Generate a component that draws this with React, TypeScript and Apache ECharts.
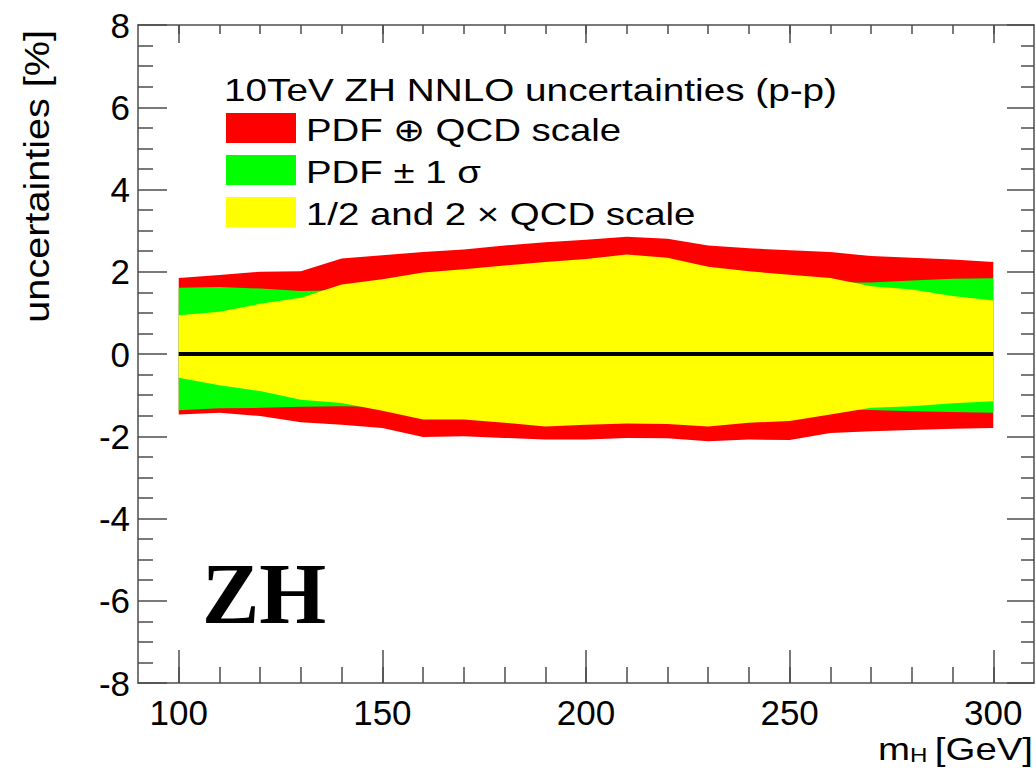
import React, { useEffect, useRef } from 'react';
import * as echarts from 'echarts';

// Higgs mass points [GeV]
const mH = [100, 110, 120, 130, 140, 150, 160, 170, 180, 190, 200, 210, 220, 230, 240, 250, 260, 270, 280, 290, 300];

// PDF (+) QCD scale (red band) [%]
const totalUp = [1.85, 1.92, 2.0, 2.01, 2.32, 2.4, 2.48, 2.54, 2.64, 2.72, 2.78, 2.85, 2.8, 2.64, 2.57, 2.52, 2.48, 2.38, 2.34, 2.3, 2.24];
const totalDown = [-1.47, -1.43, -1.51, -1.66, -1.72, -1.8, -2.02, -2.0, -2.04, -2.08, -2.08, -2.04, -2.05, -2.12, -2.08, -2.09, -1.92, -1.88, -1.85, -1.82, -1.8];

// PDF +- 1 sigma (green band) [%]
const pdfUp = [1.61, 1.63, 1.59, 1.53, 1.55, 1.58, 1.62, 1.65, 1.68, 1.7, 1.72, 1.73, 1.74, 1.74, 1.74, 1.74, 1.74, 1.74, 1.79, 1.83, 1.84];
const pdfDown = [-1.37, -1.32, -1.31, -1.28, -1.27, -1.28, -1.29, -1.3, -1.3, -1.3, -1.3, -1.3, -1.3, -1.3, -1.3, -1.3, -1.33, -1.36, -1.39, -1.41, -1.43];

// 1/2 and 2 x QCD scale (yellow band) [%]
const scaleUp = [0.94, 1.03, 1.22, 1.37, 1.69, 1.82, 1.98, 2.06, 2.15, 2.24, 2.31, 2.42, 2.34, 2.12, 2.01, 1.93, 1.85, 1.65, 1.57, 1.41, 1.3];
const scaleDown = [-0.58, -0.76, -0.9, -1.11, -1.19, -1.38, -1.59, -1.59, -1.67, -1.76, -1.72, -1.69, -1.7, -1.76, -1.67, -1.63, -1.47, -1.31, -1.27, -1.2, -1.15];

// central line
const centralX = [100, 300];
const centralY = [0, 0];

// axes
const xMajorTicks = [100, 150, 200, 250, 300];
const xMinorTicks = [100, 110, 120, 130, 140, 150, 160, 170, 180, 190, 200, 210, 220, 230, 240, 250, 260, 270, 280, 290, 300];
const xRange = [90, 310];
const yRange = [-8, 8];

const legendTitle = '10TeV ZH NNLO uncertainties (p-p)';
const bandNames = ['PDF \u2295 QCD scale', 'PDF \u00b1 1 \u03c3', '1/2 and 2 \u00d7 QCD scale'];
const bandColors = ['#ff0000', '#00ff00', '#ffff00'];
const yTitle = 'uncertainties [%]';
const processLabel = 'ZH';

const FONT = '"Liberation Sans", Arial, Helvetica, sans-serif';
const AX = '#4d4d4d';

function bandSeries(name: string, lo: number[], hi: number[], color: string, z: number) {
  const pts = mH.map((x, i) => [x, lo[i], hi[i]]);
  return {
    type: 'custom',
    name,
    data: pts,
    encode: { x: 0, y: [1, 2] },
    xAxisIndex: 0,
    yAxisIndex: 0,
    silent: true,
    z,
    renderItem: (params: any, api: any) => {
      if (params.dataIndex !== 0) return { type: 'group', children: [] };
      const upper = pts.map((p) => api.coord([p[0], p[2]]));
      const lower = pts.map((p) => api.coord([p[0], p[1]])).reverse();
      return {
        type: 'polygon',
        shape: { points: upper.concat(lower) },
        style: { fill: color, stroke: null },
      };
    },
  };
}

export default function App() {
  const ref = useRef<HTMLDivElement>(null);

  useEffect(() => {
    if (!ref.current) return;
    const chart = echarts.init(ref.current, undefined, { renderer: 'svg' });

    const gridPos = { left: 138, right: 2, top: 25, bottom: 85 };
    const lineStyle = { color: AX, width: 1.5 };

    const baseX = {
      type: 'value',
      min: xRange[0],
      max: xRange[1],
      interval: 10,
      splitLine: { show: false },
    };
    const baseY = {
      type: 'value',
      min: yRange[0],
      max: yRange[1],
      interval: 2,
      splitLine: { show: false },
    };

    const option: any = {
      animation: false,
      backgroundColor: '#ffffff',
      grid: [{ ...gridPos }, { ...gridPos }],
      xAxis: [
        {
          ...baseX,
          gridIndex: 0,
          position: 'bottom',
          axisLine: { show: true, onZero: false, lineStyle },
          axisTick: { show: true, inside: true, length: 33, customValues: xMajorTicks, lineStyle },
          axisLabel: {
            customValues: xMajorTicks,
            fontSize: 35,
            fontFamily: FONT,
            color: '#000',
            margin: 12,
          },
        },
        {
          ...baseX,
          gridIndex: 0,
          position: 'top',
          axisLine: { show: true, onZero: false, lineStyle },
          axisTick: { show: true, inside: true, length: 18, customValues: xMajorTicks, lineStyle },
          axisLabel: { show: false },
        },
        {
          ...baseX,
          gridIndex: 1,
          position: 'bottom',
          axisLine: { show: false, onZero: false },
          axisTick: { show: true, inside: true, length: 16, customValues: xMinorTicks, lineStyle },
          axisLabel: { show: false },
        },
        {
          ...baseX,
          gridIndex: 1,
          position: 'top',
          axisLine: { show: false, onZero: false },
          axisTick: { show: true, inside: true, length: 9, customValues: xMinorTicks, lineStyle },
          axisLabel: { show: false },
        },
      ],
      yAxis: [
        {
          ...baseY,
          gridIndex: 0,
          position: 'left',
          axisLine: { show: true, onZero: false, lineStyle },
          axisTick: { show: true, inside: true, length: 29, lineStyle },
          minorTick: { show: true, splitNumber: 4, length: 15, lineStyle },
          axisLabel: { fontSize: 35, fontFamily: FONT, color: '#000', margin: 8 },
        },
        {
          ...baseY,
          gridIndex: 0,
          position: 'right',
          axisLine: { show: true, onZero: false, lineStyle },
          axisTick: { show: true, inside: true, length: 27, lineStyle },
          minorTick: { show: true, splitNumber: 4, length: 13, lineStyle },
          axisLabel: { show: false },
        },
        {
          ...baseY,
          gridIndex: 1,
          show: false,
        },
      ],
      series: [
        bandSeries(bandNames[0], totalDown, totalUp, bandColors[0], 1),
        bandSeries(bandNames[1], pdfDown, pdfUp, bandColors[1], 2),
        bandSeries(bandNames[2], scaleDown, scaleUp, bandColors[2], 3),
        {
          type: 'line',
          name: 'central',
          data: centralX.map((x, i) => [x, centralY[i]]),
          symbol: 'none',
          lineStyle: { color: '#000', width: 4 },
          silent: true,
          z: 5,
          xAxisIndex: 0,
          yAxisIndex: 0,
        },
      ],
      graphic: [
        // y-axis title
        {
          type: 'text',
          x: 37,
          y: 30,
          rotation: Math.PI / 2,
          scaleX: 1.1,
          style: {
            text: yTitle,
            fontSize: 36,
            fontFamily: FONT,
            fill: '#000',
            align: 'right',
            verticalAlign: 'middle',
          },
        },
        // x-axis title m_H [GeV]
        {
          type: 'text',
          x: 878,
          y: 749,
          scaleX: 1.2,
          style: { text: 'm', fontSize: 32, fontFamily: FONT, fill: '#000', align: 'left', verticalAlign: 'middle' },
        },
        {
          type: 'text',
          x: 910,
          y: 755,
          scaleX: 1.15,
          style: { text: 'H', fontSize: 21, fontFamily: FONT, fill: '#000', align: 'left', verticalAlign: 'middle' },
        },
        {
          type: 'text',
          x: 1033,
          y: 749,
          scaleX: 1.2,
          style: { text: '[GeV]', fontSize: 32, fontFamily: FONT, fill: '#000', align: 'right', verticalAlign: 'middle' },
        },
        // legend title
        {
          type: 'text',
          x: 224,
          y: 90,
          scaleX: 1.21,
          style: { text: legendTitle, fontSize: 32, fontFamily: FONT, fill: '#000', align: 'left', verticalAlign: 'middle' },
        },
        // legend entries
        ...bandNames.flatMap((name, i) => [
          {
            type: 'rect',
            shape: { x: 226, y: 113 + i * 42, width: 70, height: 30 },
            style: { fill: bandColors[i] },
          },
          {
            type: 'text',
            x: 306,
            y: 130 + i * 42,
            scaleX: 1.2,
            style: { text: name, fontSize: 32, fontFamily: FONT, fill: '#000', align: 'left', verticalAlign: 'middle' },
          },
        ]),
        // process label
        {
          type: 'text',
          x: 202,
          y: 594,
          style: {
            text: processLabel,
            fontSize: 86,
            fontWeight: 'bold',
            fontFamily: '"Liberation Serif", "Times New Roman", serif',
            fill: '#000',
            align: 'left',
            verticalAlign: 'middle',
          },
        },
      ],
    };

    chart.setOption(option);
    return () => chart.dispose();
  }, []);

  return (
    <div
      ref={ref}
      style={{ position: 'absolute', left: 0, top: 0, width: 1036, height: 768, background: '#fff' }}
    />
  );
}
